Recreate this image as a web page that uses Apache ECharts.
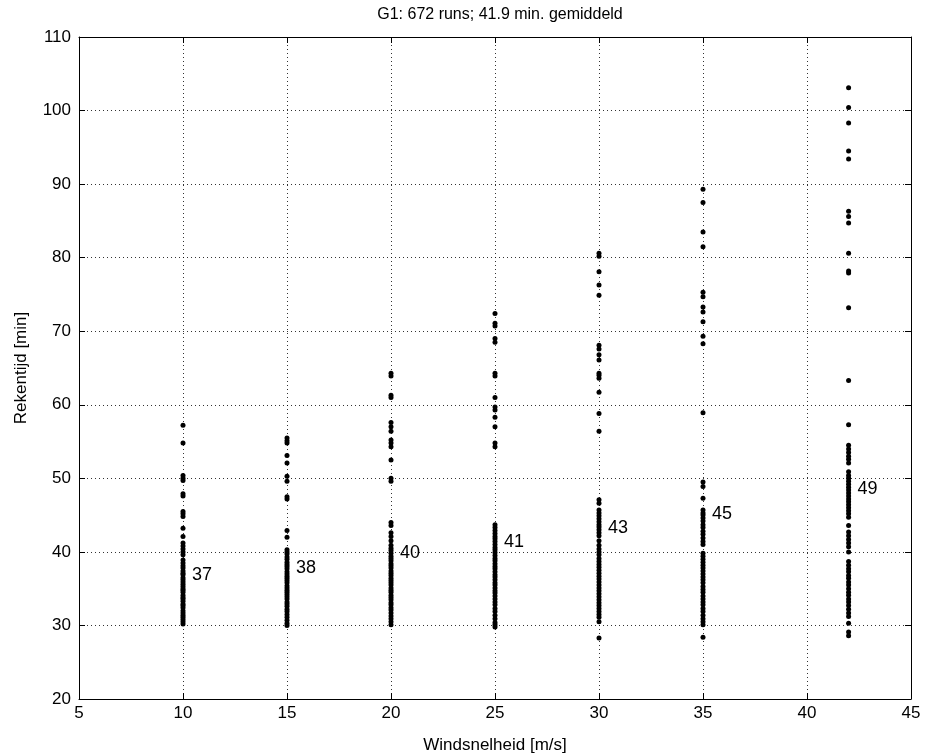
<!DOCTYPE html>
<html>
<head>
<meta charset="utf-8">
<script src="https://cdn.jsdelivr.net/npm/echarts@6/dist/echarts.min.js"></script>
<style>
html,body{margin:0;padding:0;background:#fff;}
#chart{width:929px;height:754px;}
</style>
</head>
<body>
<div id="chart"></div>
<script>
var windSpeeds = [10, 15, 20, 25, 30, 35, 42];

var runs10 = [57.2, 54.8, 50.4, 50.0, 49.7, 47.9, 47.6, 45.5, 45.2, 44.8, 43.2, 42.1, 41.2, 40.8, 40.4, 40.0, 39.6,
  38.9, 38.5, 38.1, 37.8, 37.4, 37.1, 36.9, 36.5, 36.2, 35.9, 35.6, 35.3, 35.0, 34.8, 34.5, 34.1, 33.8, 33.6, 33.3,
  32.9, 32.7, 32.4, 32.0, 31.7, 31.4, 31.1, 30.8, 30.5, 30.2];
var runs15 = [55.5, 55.1, 54.8, 53.1, 52.1, 50.3, 49.6, 47.5, 47.2, 42.9, 42.0, 40.3, 40.0, 39.7, 39.3, 39.0, 38.6,
  38.3, 38.0, 37.7, 37.3, 37.0, 36.7, 36.4, 36.1, 35.8, 35.4, 35.1, 34.8, 34.5, 34.2, 33.9, 33.6, 33.2, 32.9, 32.6,
  32.2, 31.9, 31.5, 31.1, 30.7, 30.3, 30.0];
var runs20 = [64.3, 63.9, 61.3, 61.0, 57.6, 57.0, 56.4, 55.2, 54.8, 54.3, 52.5, 50.0, 49.6, 44.0, 43.6, 42.6, 42.1,
  41.5, 40.9, 40.5, 40.2, 39.8, 39.4, 39.1, 38.8, 38.4, 38.1, 37.8, 37.4, 37.1, 36.8, 36.4, 36.1, 35.8, 35.5, 35.1,
  34.8, 34.5, 34.1, 33.8, 33.5, 33.1, 32.8, 32.4, 32.1, 31.7, 31.3, 30.9, 30.5, 30.1];
var runs25 = [72.4, 71.1, 70.7, 69.0, 68.5, 64.3, 63.9, 61.0, 59.7, 59.3, 58.3, 57.0, 54.8, 54.3,
  43.7, 43.3, 42.9, 42.5, 42.1, 41.8, 41.4, 41.0, 40.6, 40.3, 39.9, 39.5, 39.1, 38.8, 38.4, 38.0, 37.7, 37.3, 36.9,
  36.6, 36.2, 35.8, 35.5, 35.1, 34.7, 34.4, 34.0, 33.6, 33.2, 32.8, 32.3, 31.9, 31.4, 30.9, 30.4, 30.1, 29.8];
var runs30 = [80.6, 80.2, 78.1, 76.3, 74.9, 68.1, 67.6, 66.8, 66.1, 64.3, 64.0, 63.6, 61.7, 58.8, 56.4,
  47.1, 46.6, 45.7, 45.3, 44.9, 44.5, 44.1, 43.7, 43.4, 43.0, 42.6, 42.2, 41.5, 40.9, 40.4, 40.0, 39.6, 39.1, 38.7,
  38.3, 37.9, 37.5, 37.1, 36.7, 36.3, 35.9, 35.5, 35.1, 34.7, 34.3, 33.9, 33.5, 33.1, 32.7, 32.3, 31.9, 31.5, 31.1,
  30.5, 28.3];
var runs35 = [89.3, 87.5, 83.5, 81.5, 75.3, 74.7, 73.3, 72.6, 71.3, 69.3, 68.3, 58.9, 49.5, 48.9, 47.3, 45.7, 45.3,
  45.0, 44.6, 44.2, 43.7, 43.3, 42.8, 42.4, 41.9, 41.4, 41.0, 39.8, 39.4, 39.0, 38.6, 38.2, 37.8, 37.4, 37.0, 36.6,
  36.2, 35.8, 35.3, 34.9, 34.5, 34.0, 33.6, 33.2, 32.8, 32.3, 31.9, 31.4, 30.9, 30.5, 30.1, 28.4];
var runs42 = [103.1, 100.4, 98.3, 94.5, 93.4, 86.3, 85.6, 84.7, 80.6, 78.2, 77.9, 73.2, 63.3, 57.3, 54.5, 54.0,
  53.5, 53.0, 52.6, 52.1, 50.9, 50.4, 50.0, 49.6, 49.2, 48.8, 48.4, 48.0, 47.6, 47.2, 46.8, 46.4, 46.0, 45.6, 45.2,
  44.7, 43.6, 42.7, 42.2, 41.7, 41.2, 40.7, 40.0, 38.7, 38.2, 37.7, 37.3, 36.8, 36.4, 35.9, 35.5, 35.0, 34.5, 34.1,
  33.6, 33.2, 32.7, 32.2, 31.7, 31.2, 30.3, 29.1, 28.6];

var meanLabels = ['37', '38', '40', '41', '43', '45', '49'];
var meanValues = [36.8, 37.8, 39.8, 41.3, 43.2, 45.1, 48.5];

var xTicks = [5, 10, 15, 20, 25, 30, 35, 40, 45];
var yTicks = [20, 30, 40, 50, 60, 70, 80, 90, 100, 110];

var allRuns = [runs10, runs15, runs20, runs25, runs30, runs35, runs42];
var pointData = [];
allRuns.forEach(function (arr, i) {
  arr.forEach(function (v) { pointData.push([windSpeeds[i], v]); });
});
var labelData = windSpeeds.map(function (w, i) {
  return { value: [w, meanValues[i]], name: meanLabels[i] };
});

var FONT = 'Liberation Sans, Arial, Helvetica, sans-serif';
var chart = echarts.init(document.getElementById('chart'), null, { renderer: 'canvas' });

var gridLine = { show: true, lineStyle: { color: '#000', type: [1, 3], width: 1, opacity: 0.8 } };

chart.setOption({
  backgroundColor: '#fff',
  animation: false,
  title: {
    text: 'G1: 672 runs; 41.9 min. gemiddeld',
    left: 495, top: 2, textAlign: 'center',
    textStyle: { fontFamily: FONT, fontSize: 16, fontWeight: 'normal', color: '#000' }
  },
  grid: { left: 79, right: 18, top: 37, bottom: 55, show: false, containLabel: false, outerBoundsMode: 'none' },
  xAxis: [{
    type: 'value', min: xTicks[0], max: xTicks[xTicks.length - 1], interval: 5, position: 'bottom',
    name: 'Windsnelheid [m/s]', nameLocation: 'middle', nameGap: 38,
    nameTextStyle: { fontFamily: FONT, fontSize: 17, color: '#000' },
    axisLine: { show: true, onZero: false, lineStyle: { color: '#000', width: 1 } },
    axisTick: { show: true, inside: true, length: 6, lineStyle: { color: '#000' } },
    axisLabel: { fontFamily: FONT, fontSize: 17, color: '#000', margin: 6 },
    splitLine: gridLine
  }, {
    type: 'value', min: xTicks[0], max: xTicks[xTicks.length - 1], interval: 5, position: 'top',
    axisLine: { show: true, onZero: false, lineStyle: { color: '#000', width: 1 } },
    axisTick: { show: true, inside: true, length: 6, lineStyle: { color: '#000' } },
    axisLabel: { show: false }, splitLine: { show: false }
  }],
  yAxis: [{
    type: 'value', min: yTicks[0], max: yTicks[yTicks.length - 1], interval: 10, position: 'left',
    name: 'Rekentijd [min]', nameLocation: 'middle', nameGap: 49, nameRotate: 90,
    nameTextStyle: { fontFamily: FONT, fontSize: 17, color: '#000' },
    axisLine: { show: true, onZero: false, lineStyle: { color: '#000', width: 1 } },
    axisTick: { show: true, inside: true, length: 6, lineStyle: { color: '#000' } },
    axisLabel: { fontFamily: FONT, fontSize: 17, color: '#000', margin: 8 },
    splitLine: gridLine
  }, {
    type: 'value', min: yTicks[0], max: yTicks[yTicks.length - 1], interval: 10, position: 'right',
    axisLine: { show: true, onZero: false, lineStyle: { color: '#000', width: 1 } },
    axisTick: { show: true, inside: true, length: 6, lineStyle: { color: '#000' } },
    axisLabel: { show: false }, splitLine: { show: false }
  }],
  series: [{
    type: 'scatter', xAxisIndex: 0, yAxisIndex: 0,
    symbol: 'circle', symbolSize: 5,
    itemStyle: { color: '#000', opacity: 1 },
    data: pointData
  }, {
    type: 'scatter', xAxisIndex: 0, yAxisIndex: 0,
    symbol: 'circle', symbolSize: 0,
    itemStyle: { color: '#000', opacity: 1 },
    label: {
      show: true, position: 'right', distance: 9,
      formatter: function (p) { return p.name; },
      fontFamily: FONT, fontSize: 18, color: '#000'
    },
    data: labelData
  }]
});
</script>
</body>
</html>
